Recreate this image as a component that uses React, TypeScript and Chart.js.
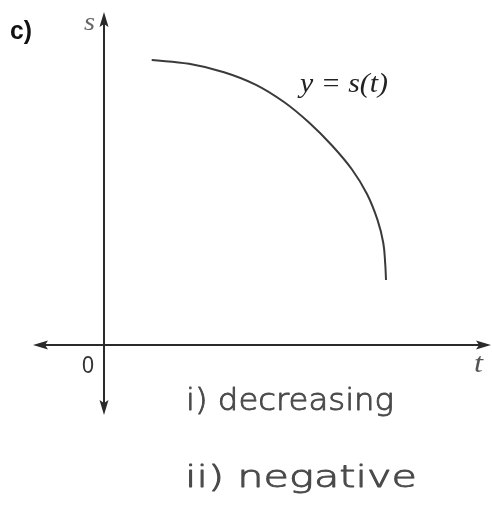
import React, { useEffect, useRef } from "react";
import { Chart, registerables } from "chart.js";

Chart.register(...registerables);

// Curve y = s(t): t and s values (same units on both axes)
const T_CURVE = [47.7, 85, 120, 152, 180, 205, 228, 248, 263, 273.5, 279.3, 281.3, 282];
const S_CURVE = [285, 281.2, 272.8, 260.2, 243, 222.5, 199.5, 175.5, 151, 125.1, 102, 80, 65];

// Axis extents
const T_AXIS_ENDS = [-63, 379];
const S_AXIS_ENDS = [325, -62];
const T_RANGE = [-104, 388];
const S_RANGE = [-164, 345];

// Arrowheads: [t, s, rotation]
const ARROW_T = [0, 0, -63, 379];
const ARROW_S = [325, -62, 0, 0];
const ARROW_ROT = [0, 180, 270, 90];

// Labels
const PART_LABEL = "c)";
const S_LABEL = "s";
const T_LABEL = "t";
const ORIGIN_LABEL = "0";
const CURVE_LABEL = "y = s(t)";
const ANSWER_1 = "i) decreasing";
const ANSWER_2 = "ii) negative";

function makeArrow(): HTMLCanvasElement {
  const c = document.createElement("canvas");
  c.width = 10;
  c.height = 16;
  const g = c.getContext("2d")!;
  g.fillStyle = "#2a2a2a";
  g.beginPath();
  g.moveTo(5, 0);
  g.lineTo(9.5, 15);
  g.lineTo(5, 12);
  g.lineTo(0.5, 15);
  g.closePath();
  g.fill();
  return c;
}

function fitText(ctx: CanvasRenderingContext2D, text: string, x: number, y: number, w: number, stroke = 0) {
  const m = ctx.measureText(text).width;
  ctx.save();
  ctx.translate(x, y);
  ctx.scale(w / m, 1);
  ctx.fillText(text, 0, 0);
  if (stroke > 0) {
    ctx.strokeStyle = ctx.fillStyle as string;
    ctx.lineWidth = stroke;
    ctx.lineJoin = "round";
    ctx.strokeText(text, 0, 0);
  }
  ctx.restore();
}

const labelsPlugin = {
  id: "labels",
  afterDatasetsDraw(chart: any) {
    const ctx: CanvasRenderingContext2D = chart.ctx;
    const xs = chart.scales.x;
    const ys = chart.scales.y;
    const px = (t: number) => xs.getPixelForValue(t);
    const py = (s: number) => ys.getPixelForValue(s);
    ctx.save();
    ctx.textBaseline = "alphabetic";
    ctx.textAlign = "left";

    ctx.fillStyle = "#111";
    ctx.font = "bold 26px 'Liberation Sans', sans-serif";
    fitText(ctx, PART_LABEL, 10, 39, 22);

    ctx.fillStyle = "#666";
    ctx.font = "italic 25px 'Liberation Serif', serif";
    fitText(ctx, S_LABEL, px(0) - 20, py(315), 11);

    ctx.fillStyle = "#555";
    ctx.font = "italic 28px 'Liberation Serif', serif";
    fitText(ctx, T_LABEL, px(370), py(-27), 9);

    ctx.fillStyle = "#333";
    ctx.font = "23px 'Liberation Sans', sans-serif";
    fitText(ctx, ORIGIN_LABEL, px(-22), py(-28), 12);

    ctx.fillStyle = "#222";
    ctx.font = "italic 27px 'Liberation Serif', serif";
    fitText(ctx, CURVE_LABEL, px(196), py(253), 88);

    ctx.fillStyle = "#4a4a4a";
    ctx.font = "200 31px 'DejaVu Sans', sans-serif";
    fitText(ctx, ANSWER_1, 186, 410, 208, 0.9);
    fitText(ctx, ANSWER_2, 185, 487, 232, 0.9);

    ctx.restore();
  },
};

export default function App() {
  const ref = useRef<HTMLCanvasElement>(null);
  useEffect(() => {
    document.body.style.margin = "0";
    const arrow = makeArrow();
    const chart = new Chart(ref.current!, {
      type: "line",
      data: {
        datasets: [
          {
            data: T_AXIS_ENDS.map((t) => ({ x: t, y: 0 })),
            borderColor: "#2a2a2a",
            borderWidth: 2,
            pointRadius: 0,
            clip: false as any,
          },
          {
            data: S_AXIS_ENDS.map((s) => ({ x: 0, y: s })),
            borderColor: "#2a2a2a",
            borderWidth: 2,
            pointRadius: 0,
            clip: false as any,
          },
          {
            data: T_CURVE.map((t, i) => ({ x: t, y: S_CURVE[i] })),
            borderColor: "#3a3a3a",
            borderWidth: 2,
            pointRadius: 0,
            tension: 0.4,
            clip: false as any,
          },
          {
            data: ARROW_T.map((t, i) => ({ x: t, y: ARROW_S[i] })),
            showLine: false,
            pointStyle: arrow as any,
            pointRotation: ARROW_ROT as any,
            pointRadius: 8,
            clip: false as any,
          },
        ],
      },
      options: {
        animation: false,
        responsive: false,
        devicePixelRatio: 1,
        layout: { padding: 0, autoPadding: false },
        plugins: { legend: { display: false }, tooltip: { enabled: false } },
        scales: {
          x: { type: "linear", min: T_RANGE[0], max: T_RANGE[1], display: false },
          y: { type: "linear", min: S_RANGE[0], max: S_RANGE[1], display: false },
        },
      },
      plugins: [labelsPlugin],
    });
    return () => chart.destroy();
  }, []);
  return (
    <div style={{ position: "fixed", left: 0, top: 0, width: 492, height: 509, background: "#fff" }}>
      <canvas ref={ref} width={492} height={509} />
    </div>
  );
}
